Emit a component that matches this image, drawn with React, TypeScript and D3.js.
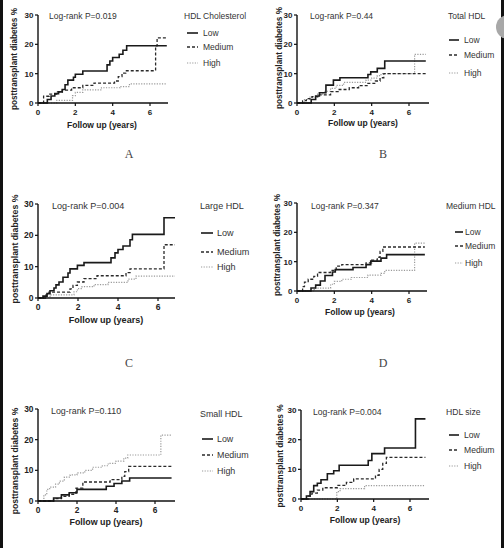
import React from "react";
import * as d3 from "d3";

// ---------- data ----------
const groups = ["Low", "Medium", "High"];
const pValues = ["Log-rank P=0.019", "Log-rank P=0.44", "Log-rank P=0.004", "Log-rank P=0.347", "Log-rank P=0.110", "Log-rank P=0.004"];
const legendTitles = ["HDL Cholesterol", "Total HDL", "Large HDL", "Medium HDL", "Small HDL", "HDL size"];
const panelLetters = ["A", "B", "C", "D", "", ""];
const yTicks = [0, 10, 20, 30];
const xTicks = [0, 2, 4, 6];
const followUpEnd = [6.9, 6.9, 6.85, 6.85, 6.85, 6.85];

const A_low = [[0,0],[0.5,1.2],[0.7,2.4],[0.9,3.2],[1.1,3.8],[1.3,4.6],[1.45,6.2],[1.6,7.8],[1.9,8.8],[2.0,9.8],[2.4,10.9],[3.7,13.0],[3.85,14.3],[4.0,15.5],[4.35,16.6],[4.55,18.0],[4.75,19.5]];
const A_med = [[0,0],[0.3,2.3],[0.6,3.0],[1.0,3.8],[1.3,4.4],[1.8,5.2],[2.4,6.0],[3.0,6.8],[4.1,7.5],[4.3,9.0],[4.5,10.2],[4.7,11.0],[6.3,19.5],[6.38,22.2]];
const A_high = [[0,0],[1.0,0.9],[1.85,2.5],[2.0,3.6],[2.4,4.5],[3.4,5.2],[4.4,5.6],[4.9,6.5]];

const B_low = [[0,0],[0.76,1.2],[1.0,2.4],[1.2,3.5],[1.55,6.1],[1.95,7.8],[2.3,8.6],[3.8,9.7],[3.95,10.6],[4.3,11.8],[4.7,14.3]];
const B_med = [[0,0],[0.3,0.8],[0.5,1.5],[0.8,2.2],[1.2,2.8],[1.8,3.9],[2.2,4.6],[2.8,5.2],[3.3,5.9],[3.8,6.7],[4.2,7.5],[4.45,8.6],[4.65,10.0]];
const B_high = [[0,0],[0.4,1.2],[0.7,2.0],[1.1,3.0],[1.5,4.0],[1.8,5.0],[2.1,6.0],[2.5,7.0],[3.7,7.8],[4.0,8.5],[4.3,9.3],[4.5,10.0],[6.3,16.6]];

const C_low = [[0,0],[0.25,0.6],[0.45,1.4],[0.6,2.3],[0.8,3.2],[0.9,4.2],[1.05,5.1],[1.25,6.6],[1.5,8.0],[1.6,9.3],[1.97,10.4],[2.3,11.3],[3.65,12.8],[3.85,14.4],[4.0,15.5],[4.25,16.6],[4.6,18.6],[4.72,20.3],[6.3,25.6]];
const C_med = [[0,0],[0.4,1.0],[0.55,1.9],[1.6,2.9],[1.75,4.0],[1.97,5.1],[2.3,6.2],[2.95,7.1],[4.4,8.1],[4.6,9.3],[6.3,17.0]];
const C_high = [[0,0],[0.4,0.5],[0.65,1.0],[1.8,2.0],[1.97,3.0],[2.2,3.6],[2.8,4.3],[3.5,5.0],[4.5,6.0],[4.9,7.0]];

const D_low = [[0,0],[0.75,1.0],[1.0,2.0],[1.25,3.4],[1.5,5.3],[1.9,6.5],[2.05,7.3],[3.0,8.0],[3.7,9.0],[3.95,10.2],[4.5,11.2],[4.8,12.4]];
const D_med = [[0,0],[0.3,1.5],[0.4,3.0],[0.6,4.0],[0.9,5.0],[1.1,6.3],[1.8,7.0],[2.1,8.5],[2.4,9.0],[3.7,9.6],[4.0,10.5],[4.3,11.5],[4.45,13.5],[4.6,15.0]];
const D_high = [[0,0],[0.9,0.5],[1.0,1.0],[1.8,2.3],[2.0,3.3],[2.4,4.0],[2.9,4.6],[3.8,5.4],[4.5,6.0],[4.7,7.0],[6.3,16.3]];

const E_low = [[0,0],[0.8,1.0],[1.2,2.0],[1.6,2.7],[2.0,3.8],[3.5,4.8],[3.9,5.7],[4.3,6.5],[4.7,7.5]];
const E_med = [[0,0],[0.8,0.8],[1.2,1.5],[1.6,2.2],[1.95,4.2],[2.3,6.2],[3.7,7.0],[4.3,8.0],[4.45,9.6],[4.65,11.3]];
const E_high = [[0,0],[0.3,2.0],[0.45,3.8],[0.6,4.5],[0.9,5.5],[1.1,6.5],[1.35,7.8],[1.65,8.5],[2.0,9.2],[2.4,10.0],[2.8,11.0],[3.3,11.5],[3.6,12.3],[4.0,13.0],[4.4,14.0],[4.6,15.0],[6.3,21.5]];

const F_low = [[0,0],[0.3,1.0],[0.5,2.5],[0.7,4.5],[0.9,5.3],[1.1,6.5],[1.45,8.5],[1.8,9.5],[2.1,11.4],[3.7,13.0],[3.9,15.3],[4.6,17.2],[6.3,27.0]];
const F_med = [[0,0],[0.4,1.0],[0.6,2.0],[0.9,3.0],[1.2,3.8],[2.0,4.6],[2.5,5.6],[2.9,6.8],[4.1,8.0],[4.3,10.0],[4.5,12.0],[4.7,14.0]];
const F_high = [[0,0],[1.97,2.5],[2.15,3.5],[3.5,4.5]];

const panelSeries = [
  [A_low, A_med, A_high],
  [B_low, B_med, B_high],
  [C_low, C_med, C_high],
  [D_low, D_med, D_high],
  [E_low, E_med, E_high],
  [F_low, F_med, F_high],
];

// ---------- layout ----------
const layouts = [
  { ox: 38, x6: 150, xEndPx: 168, y0: 103, y30: 15, yLabX: 17, yLabY: 59, xLabX: 102, xLabY: 128, logX: 49, logY: 19, legX: 184, legTitleY: 19, lineX1: 187, lineX2: 198, legTextX: 203, legYs: [36, 50, 66], letterX: 129, letterY: 158 },
  { ox: 297, x6: 409, xEndPx: 429, y0: 103, y30: 15, yLabX: 282, yLabY: 58, xLabX: 363, xLabY: 126, logX: 310, logY: 19, legX: 448, legTitleY: 19, lineX1: 449, lineX2: 459, legTextX: 464, legYs: [43, 58, 76], letterX: 383, letterY: 158 },
  { ox: 38, x6: 158, xEndPx: 175, y0: 298, y30: 204, yLabX: 18, yLabY: 249, xLabX: 106, xLabY: 323, logX: 52, logY: 209, legX: 200, legTitleY: 209, lineX1: 201, lineX2: 213, legTextX: 217, legYs: [236, 255, 270], letterX: 129, letterY: 367 },
  { ox: 297, x6: 409, xEndPx: 427, y0: 291, y30: 203, yLabX: 280, yLabY: 245, xLabX: 360, xLabY: 315, logX: 311, logY: 209, legX: 446, legTitleY: 209, lineX1: 455, lineX2: 463, legTextX: 465, legYs: [235, 249, 266], letterX: 383, letterY: 367 },
  { ox: 38, x6: 155, xEndPx: 175, y0: 501, y30: 409, yLabX: 18, yLabY: 461, xLabX: 106, xLabY: 525, logX: 51, logY: 414, legX: 200, legTitleY: 417, lineX1: 202, lineX2: 213, legTextX: 217, legYs: [442, 458, 474], letterX: 129, letterY: 570 },
  { ox: 301, x6: 410, xEndPx: 429, y0: 499, y30: 410, yLabX: 283, yLabY: 456, xLabX: 365, xLabY: 523, logX: 313, logY: 415, legX: 446, legTitleY: 415, lineX1: 449, lineX2: 459, legTextX: 464, legYs: [438, 453, 469], letterX: 383, letterY: 570 },
];

const seriesStyle = [
  { stroke: "#1a1a1a", width: 1.6, dash: "none" },
  { stroke: "#2a2a2a", width: 1.3, dash: "3,2" },
  { stroke: "#9a9a9a", width: 1.2, dash: "1.2,1.4" },
];

const FONT = "'Liberation Sans', Arial, sans-serif";

function Panel({ idx }: { idx: number }) {
  const L = layouts[idx];
  const s = (L.y0 - L.y30) / 88;
  const x = d3.scaleLinear().domain([0, 6]).range([L.ox, L.x6]);
  const y = d3.scaleLinear().domain([0, 30]).range([L.y0, L.y30]);
  const end = followUpEnd[idx];
  const line = d3
    .line<number[]>()
    .x((d) => x(d[0]))
    .y((d) => y(d[1]))
    .curve(d3.curveStepAfter);
  const series = panelSeries[idx];
  return (
    <g>
      {/* curves */}
      {series
        .map((pts, i) => ({ pts, i }))
        .reverse()
        .map(({ pts, i }) => {
          const last = pts[pts.length - 1];
          const full = [...pts, [end, last[1]]];
          const st = seriesStyle[i];
          return (
            <path
              key={i}
              d={line(full) || ""}
              fill="none"
              stroke={st.stroke}
              strokeWidth={st.width}
              strokeDasharray={st.dash}
            />
          );
        })}
      {/* axes */}
      <line x1={L.ox} x2={L.ox} y1={L.y30} y2={L.y0} stroke="#111" strokeWidth={1.4} />
      <line x1={L.ox} x2={L.xEndPx} y1={L.y0} y2={L.y0} stroke="#111" strokeWidth={1.4} />
      {yTicks.map((t) => (
        <g key={"y" + t}>
          <line x1={L.ox - 3} x2={L.ox} y1={y(t)} y2={y(t)} stroke="#111" strokeWidth={1.2} />
          <text x={L.ox - 4.5} y={y(t) + 3} textAnchor="end" fontFamily={FONT} fontWeight="bold" fontSize={8 * s} fill="#222">
            {t}
          </text>
        </g>
      ))}
      {xTicks.map((t) => (
        <g key={"x" + t}>
          <line x1={x(t)} x2={x(t)} y1={L.y0} y2={L.y0 + 3} stroke="#111" strokeWidth={1.2} />
          <text x={x(t)} y={L.y0 + 12} textAnchor="middle" fontFamily={FONT} fontWeight="bold" fontSize={8 * s} fill="#222">
            {t}
          </text>
        </g>
      ))}
      <text x={L.xLabX} y={L.xLabY} textAnchor="middle" fontFamily={FONT} fontWeight="bold" fontSize={8.5 * s} fill="#222">
        Follow up (years)
      </text>
      <text
        transform={`translate(${L.yLabX},${L.yLabY}) rotate(-90)`}
        textAnchor="middle"
        fontFamily={FONT}
        fontWeight="bold"
        fontSize={8.2 * s}
        fill="#222"
      >
        posttransplant diabetes %
      </text>
      <text x={L.logX} y={L.logY} fontFamily={FONT} fontSize={8.5 * s} fill="#333">
        {pValues[idx]}
      </text>
      <text x={L.legX} y={L.legTitleY} fontFamily={FONT} fontSize={8.5 * s} fill="#333">
        {legendTitles[idx]}
      </text>
      {groups.map((g, i) => {
        const st = seriesStyle[i];
        const ly = L.legYs[i];
        return (
          <g key={g}>
            <line x1={L.lineX1} x2={L.lineX2} y1={ly - 3} y2={ly - 3} stroke={st.stroke} strokeWidth={st.width} strokeDasharray={st.dash} />
            <text x={L.legTextX} y={ly} fontFamily={FONT} fontSize={8.5 * s} fill="#333">
              {g}
            </text>
          </g>
        );
      })}
      {panelLetters[idx] && (
        <text x={L.letterX} y={L.letterY} textAnchor="middle" fontFamily="'Liberation Serif', 'DejaVu Serif', serif" fontSize={12} fill="#444">
          {panelLetters[idx]}
        </text>
      )}
    </g>
  );
}

export default function App() {
  return (
    <svg width={504} height={548} style={{ position: "absolute", left: 0, top: 0, background: "#fff" }}>
      <rect x={0} y={0} width={504} height={548} fill="#fff" />
      {layouts.map((_, i) => (
        <Panel key={i} idx={i} />
      ))}
      <rect x={0} y={0} width={3} height={548} fill="#111" />
      <rect x={501} y={0} width={3} height={548} fill="#111" />
      <circle cx={508} cy={27} r={12} fill="#a8a8a8" />
    </svg>
  );
}
